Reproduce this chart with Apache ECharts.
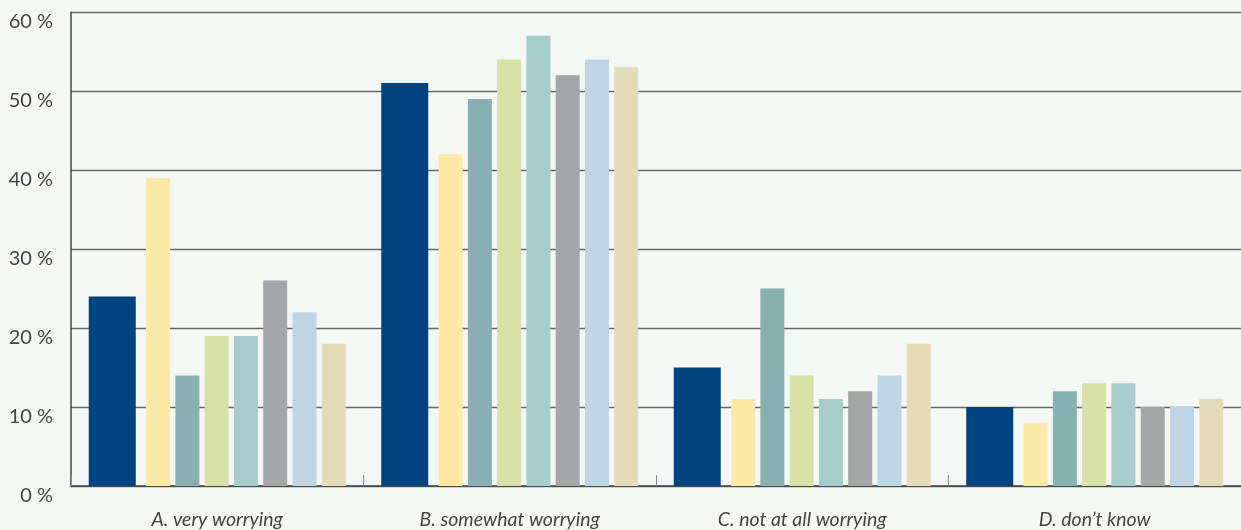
<!DOCTYPE html>
<html><head><meta charset="utf-8">
<script src="https://cdn.jsdelivr.net/npm/echarts@6/dist/echarts.min.js"></script>
<style>html,body{margin:0;padding:0;background:#f4f8f4;}#c{width:1241px;height:530px;}</style>
</head><body><div id="c"></div>
<script>
const categories = ['A. very worrying', 'B. somewhat worrying', 'C. not at all worrying', 'D. don\u2019t know'];
const s1 = [24, 51, 15, 10];
const s2 = [39, 42, 11, 8];
const s3 = [14, 49, 25, 12];
const s4 = [19, 54, 14, 13];
const s5 = [19, 57, 11, 13];
const s6 = [26, 52, 12, 10];
const s7 = [22, 54, 14, 10];
const s8 = [18, 53, 18, 11];
const yTicks = [0, 10, 20, 30, 40, 50, 60];

const seriesData = [s1, s2, s3, s4, s5, s6, s7, s8];
const colors = ['#00437f', '#fdeaa6', '#88b0b0', '#d8e1a6', '#a7cccc', '#a5a6a8', '#bdd5e5', '#e4dbb8'];

const chart = echarts.init(document.getElementById('c'), null, {renderer: 'canvas'});
chart.setOption({
  backgroundColor: '#f4f8f4',
  animation: false,
  grid: {left: 71, right: 0, top: 12, bottom: 44},
  xAxis: {
    type: 'category',
    data: categories,
    axisLine: {lineStyle: {color: '#444', width: 1.5}},
    axisTick: {show: true, inside: true, length: 11, lineStyle: {color: '#888'}},
    axisLabel: {fontFamily: 'Lato', fontStyle: 'italic', fontSize: 19.5, color: '#444', margin: 24}
  },
  yAxis: {
    type: 'value',
    min: 0, max: 60, interval: 10,
    axisLine: {show: true, lineStyle: {color: '#444', width: 1.5}},
    axisTick: {show: false},
    splitLine: {lineStyle: {color: '#666', width: 1.3}},
    axisLabel: {
      fontFamily: 'Lato', fontSize: 20, color: '#444', margin: 18,
      verticalAlign: 'top',
      formatter: v => yTicks.includes(v) ? v + ' %' : ''
    }
  },
  series: seriesData.map((d, i) => ({
    type: 'bar',
    data: d,
    barWidth: i === 0 ? 47 : 24,
    barGap: '22%',
    itemStyle: {color: colors[i]}
  }))
});
</script></body></html>
